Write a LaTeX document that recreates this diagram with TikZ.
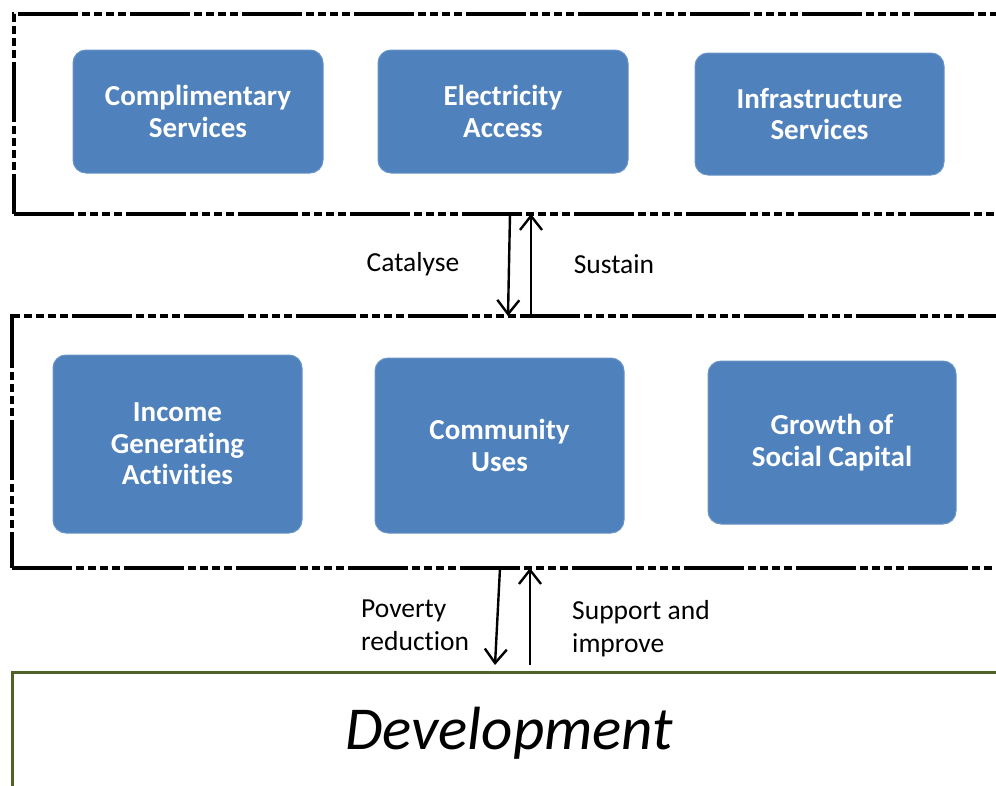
\documentclass[tikz,border=0pt]{standalone}
\usepackage{fontspec}
\setmainfont{Carlito}[Ligatures=NoCommon]
\usetikzlibrary{arrows.meta}
\definecolor{boxblue}{RGB}{79,129,189}
\definecolor{framegreen}{RGB}{79,98,40}
\begin{document}
\begin{tikzpicture}[x=1pt,y=-1pt,
  bluebox/.style={draw=boxblue!85!white, line width=1pt, fill=boxblue,
    rounded corners=13pt, text=white, align=center, inner sep=0pt,
    font=\fontsize{29}{31.5}\selectfont\bfseries},
  frame/.style={draw=black, line width=3.2pt, inner sep=0pt, outer sep=0pt,
    dash pattern=on 60pt off 4pt on 8pt off 4pt on 8pt off 4pt on 8pt off 4pt on 8pt off 4pt},
  arr/.style={line width=2.4pt, -{Straight Barb[length=14pt,width=22pt,line width=2.4pt]}},
  lbl/.style={font=\fontsize{27.5}{33}\selectfont, text=black, inner sep=0pt, align=left}]
\useasboundingbox (0,0) rectangle (996,785);
\clip (0,0) rectangle (996,785);

% outer frames
\node[frame, minimum width=996pt, minimum height=200pt] (topframe) at (512,114) {};
\node[frame, minimum width=998pt, minimum height=252pt] (midframe) at (511,442) {};
\node[draw=framegreen, line width=3pt, inner sep=0pt, outer sep=0pt,
      minimum width=998pt, minimum height=140pt] (devframe) at (511,742) {};

% top row
\node[bluebox, minimum width=250pt, minimum height=123pt] (comp) at (198,111.5) {Complimentary\\Services};
\node[bluebox, minimum width=250pt, minimum height=123pt] (elec) at (503,111.5) {Electricity\\Access};
\node[bluebox, minimum width=249pt, minimum height=122pt] (infra) at (819.5,114) {Infrastructure\\Services};

% middle row
\node[bluebox, minimum width=249pt, minimum height=178pt] (income) at (177.5,444) {Income\\Generating\\Activities};
\node[bluebox, minimum width=249pt, minimum height=175pt] (comm) at (499.5,445.5) {Community\\Uses};
\node[bluebox, minimum width=248pt, minimum height=163pt] (social) at (832,442.5) {Growth of\\Social Capital};

% development
\node[font=\fontsize{61}{63}\selectfont\itshape, inner sep=0pt] (dev) at (509,733) {Development};

% links between the layers
\draw[arr] ([xshift=-2pt]topframe.south) -- ([xshift=-3pt]midframe.north);
\draw[arr] ([xshift=20pt]midframe.north) -- ([xshift=19pt]topframe.south);
\draw[arr] ([xshift=-11pt]midframe.south) -- ([xshift=-16pt,yshift=7pt]devframe.north);
\draw[arr] ([xshift=19pt,yshift=7pt]devframe.north) -- ([xshift=19pt]midframe.south);

\node[lbl] (catalyse) at (413,264) {Catalyse};
\node[lbl] (sustain) at (614,264) {Sustain};
\node[lbl, anchor=west] (poverty) at (361,625) {Poverty\\reduction};
\node[lbl, anchor=west] (support) at (572,629) {Support and\\improve};
\end{tikzpicture}
\end{document}
